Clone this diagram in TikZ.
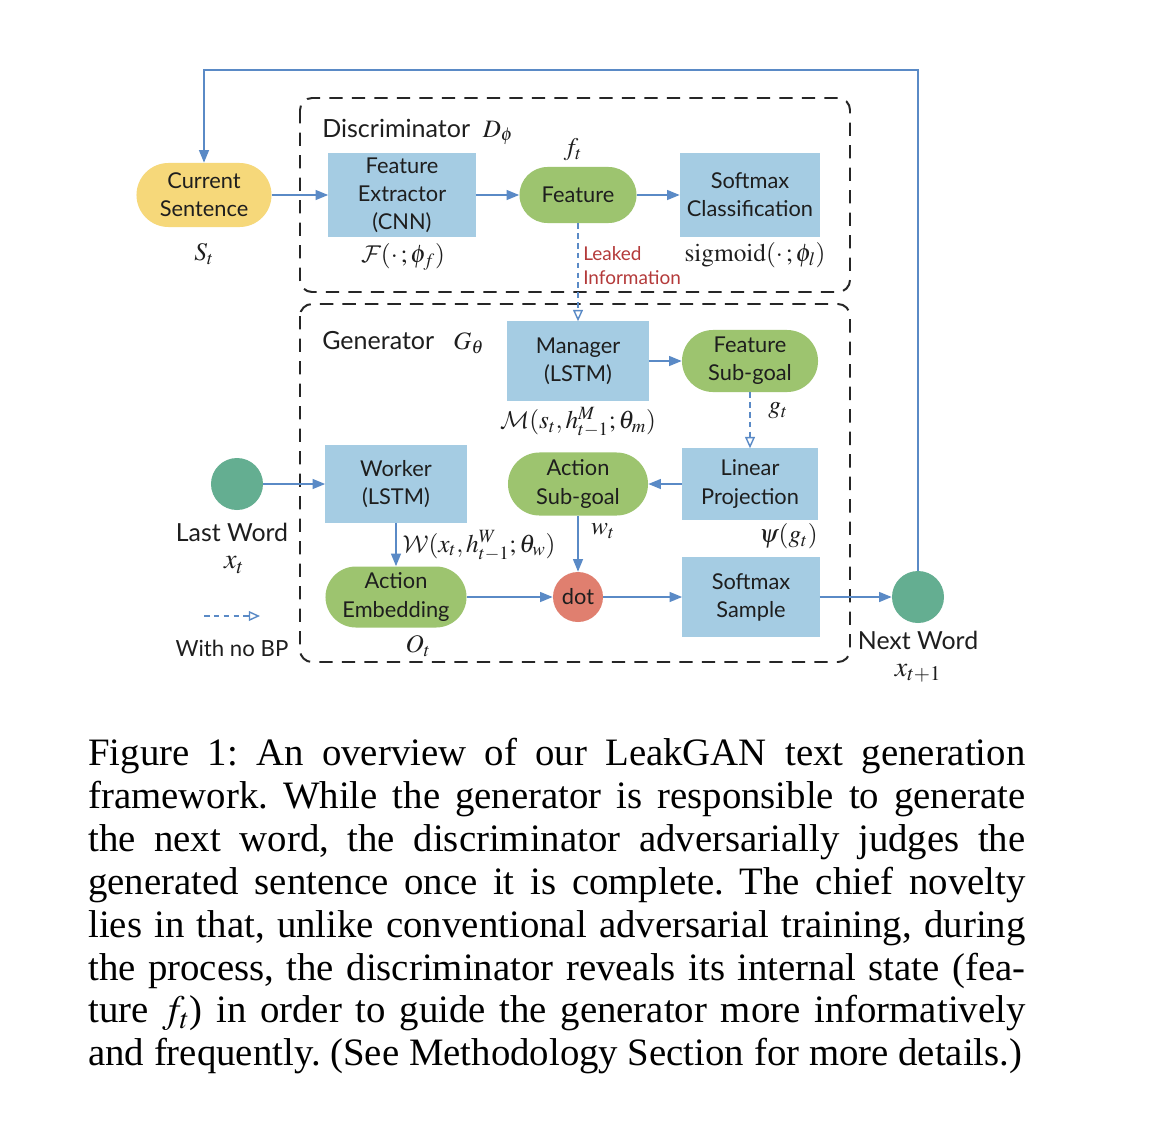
\documentclass[tikz,border=0pt]{standalone}
\usepackage{mathptmx}
\DeclareMathAlphabet{\mathcal}{OMS}{cmsy}{m}{n}
\usepackage[no-math]{fontspec}
\setmainfont{Lato}
\newfontfamily\capfont{Liberation Serif}
\usetikzlibrary{arrows.meta}
\definecolor{bluebox}{RGB}{165,204,227}
\definecolor{greenbox}{RGB}{157,196,111}
\definecolor{yellowbox}{RGB}{246,216,122}
\definecolor{dotred}{RGB}{224,127,111}
\definecolor{teal}{RGB}{100,174,145}
\definecolor{arrc}{RGB}{90,138,198}
\definecolor{leak}{RGB}{180,58,58}
\definecolor{txt}{RGB}{30,30,30}
\tikzset{
  base/.style={align=center, text=txt, font=\fontsize{15.5}{20}\selectfont, inner sep=0pt},
  bbox/.style={base, fill=bluebox},
  gbox/.style={base, fill=greenbox},
  lbl/.style={text=txt, inner sep=0pt, font=\fontsize{18}{20}\selectfont},
  big/.style={text=txt, inner sep=0pt, font=\fontsize{17.7}{20}\selectfont},
  arr/.style={draw=arrc, line width=1.3pt, -{Triangle[length=9pt,width=7pt]}},
  dasharr/.style={draw=arrc, line width=1pt, dash pattern=on 4pt off 3pt, -{Triangle[open,length=8pt,width=7pt]}},
  dbox/.style={draw=black!85, line width=1.4pt, dash pattern=on 9.5pt off 6.5pt, rounded corners=0.3cm},
}
\begin{document}
\begin{tikzpicture}[x=0.025cm,y=-0.025cm]
\useasboundingbox[fill=white] (0,0) rectangle (1162,1124);

% dashed containers
\draw[dbox] (300,98) rectangle (850,292);
\draw[dbox] (300,304) rectangle (850,662);

% discriminator
\node[base, anchor=west, font=\fontsize{17.8}{20}\selectfont] (dlab) at (322,132) {Discriminator\ \ $D_\phi$};
\node[base, fill=yellowbox, minimum width=3.375cm, minimum height=1.6cm, rounded corners=0.8cm] (cs) at (204,195) {Current\\Sentence};
\node[bbox, minimum width=3.675cm, minimum height=2.1cm] (fe) at (402,195) {Feature\\Extractor\\(CNN)};
\node[gbox, minimum width=2.925cm, minimum height=1.4cm, rounded corners=0.7cm] (feat) at (578,195) {Feature};
\node[bbox, minimum width=3.5cm, minimum height=2.1cm] (sc) at (750,195) {Softmax\\Classification};

\node[lbl] (lst) at (204,254) {$S_t$};
\node[lbl] (lfe) at (403,257) {$\mathcal{F}(\cdot\,;\phi_f)$};
\node[lbl] (lft) at (573,150) {$f_t$};
\node[lbl] (lsc) at (755,255) {$\mathrm{sigmoid}(\cdot\,;\phi_l)$};
\node[base, anchor=west, align=left, text=leak, font=\fontsize{13.5}{17}\selectfont] (leaked) at (583,266) {Leaked\\Information};

% generator
\node[base, anchor=west, font=\fontsize{17.8}{20}\selectfont] (glab) at (322,343) {Generator\ \ \ $G_\theta$};
\node[bbox, minimum width=3.525cm, minimum height=1.975cm] (mgr) at (578,361) {Manager\\(LSTM)};
\node[gbox, minimum width=3.4cm, minimum height=1.55cm, rounded corners=0.775cm] (fsg) at (750,361) {Feature\\Sub-goal};
\node[bbox, minimum width=3.4cm, minimum height=1.775cm] (lp) at (750,484) {Linear\\Projection};
\node[gbox, minimum width=3.5cm, minimum height=1.575cm, rounded corners=0.7875cm] (asg) at (578,484) {Action\\Sub-goal};
\node[bbox, minimum width=3.525cm, minimum height=1.95cm] (wk) at (396,484) {Worker\\(LSTM)};
\node[gbox, minimum width=3.525cm, minimum height=1.525cm, rounded corners=0.7625cm] (ae) at (396,597) {Action\\Embedding};
\node[base, circle, fill=dotred, minimum size=1.25cm] (dot) at (578,597) {dot};
\node[bbox, minimum width=3.425cm, minimum height=2.0cm] (ss) at (751,597) {Softmax\\Sample};
\node[circle, fill=teal, minimum size=1.3cm, inner sep=0pt] (lw) at (237,484) {};
\node[circle, fill=teal, minimum size=1.3cm, inner sep=0pt] (nw) at (918,597) {};

\node[lbl] (lmgr) at (578,422) {$\mathcal{M}(s_t,h^M_{t-1};\theta_m)$};
\node[lbl] (lgt) at (778,411) {$g_t$};
\node[lbl, anchor=east] (lpsi) at (818,536) {$\psi(g_t)$};
\node[lbl] (lwt) at (603,531) {$w_t$};
\node[lbl] (lwk) at (479,546) {$\mathcal{W}(x_t,h^W_{t-1};\theta_w)$};
\node[lbl] (lot) at (418,646) {$O_t$};

\node[big] (lastw) at (232,532) {Last Word};
\node[lbl, font=\fontsize{20}{20}\selectfont] (lxt) at (234,565) {$x_t$};
\node[big] (nextw) at (918,640) {Next Word};
\node[lbl, font=\fontsize{20}{20}\selectfont] (lxt1) at (918,673) {$x_{t+1}$};
\node[big, font=\fontsize{15.8}{20}\selectfont] (nobp) at (232,648) {With no BP};
\coordinate (leg1) at (204,616);
\coordinate (leg2) at (260,616);
\draw[dasharr] (leg1) -- (leg2);

% connectors
\draw[arr] (cs) -- (fe);
\draw[arr] (fe) -- (feat);
\draw[arr] (feat) -- (sc);
\draw[dasharr] (feat.south) -- (mgr.north);
\draw[arr] (mgr) -- (fsg);
\draw[dasharr] (fsg.south) -- (lp.north);
\draw[arr] (lp) -- (asg);
\draw[arr] (asg) -- (dot);
\draw[arr] (lw) -- (wk);
\draw[arr] (wk) -- (ae);
\draw[arr] (ae) -- (dot);
\draw[arr] (dot) -- (ss);
\draw[arr] (ss) -- (nw);
\coordinate (tr) at (918,70);
\coordinate (tl) at (204,70);
\draw[arr] (nw.north) -- (tr) -- (tl) -- (cs.north);

% caption
\node[anchor=north west, text width=23.425cm, inner sep=0pt, align=justify, text=black,
      font=\capfont\frenchspacing\fontsize{27.6}{30.5}\selectfont] (cap) at (88,738)
{Figure 1: An overview of our LeakGAN text generation\linebreak
framework. While the generator is responsible to generate\linebreak
the next word, the discriminator adversarially judges the\linebreak
generated sentence once it is complete. The chief novelty\linebreak
lies in that, unlike conventional adversarial training, during\linebreak
the process, the discriminator reveals its internal state (fea-\linebreak
ture $f_t$) in order to guide the generator more informatively\linebreak
and frequently. (See Methodology Section for more details.)};
\end{tikzpicture}
\end{document}
